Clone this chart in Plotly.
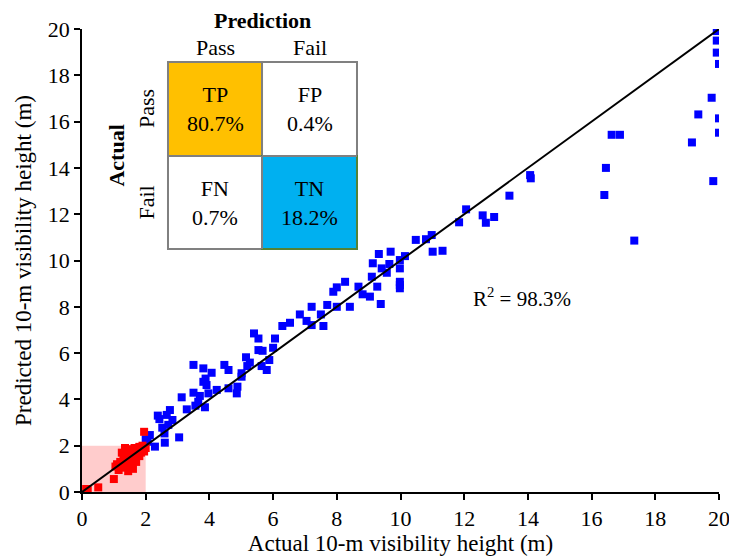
import plotly.graph_objects as go

# ---------------- data ----------------
blue_x = [2.0, 2.06, 2.13, 2.29, 2.38, 2.43, 2.52, 2.59, 2.6, 2.66, 2.71, 2.76, 2.84, 3.05, 3.13,
          3.29, 3.5, 3.5, 3.56, 3.65, 3.7, 3.81, 3.81, 3.86, 3.88, 3.91, 3.97, 4.07, 4.23, 4.47,
          4.6, 4.6, 4.86, 4.88, 5.01, 5.01, 5.15, 5.19, 5.27, 5.4, 5.54, 5.54, 5.64, 5.67, 5.8,
          5.88, 6.0, 6.06, 6.29, 6.53, 6.84, 7.05, 7.21, 7.21, 7.5, 7.58, 7.7, 7.89, 8.0, 8.0,
          8.26, 8.41, 8.68, 8.81, 9.04, 9.1, 9.13, 9.27, 9.32, 9.38, 9.41, 9.57, 9.65, 9.69, 9.98,
          9.98, 9.98, 9.98, 9.98, 10.14, 10.48, 10.8, 10.98, 11.01, 11.32, 11.84, 12.06, 12.58, 12.68,
          12.94, 13.42, 14.07, 14.09, 16.4, 16.45, 16.63, 16.89, 17.34, 19.15, 19.35, 19.77, 19.82,
          19.93, 19.93, 19.93, 20.0, 20.0, 20.0]
blue_y = [2.28, 2.17, 2.46, 1.96, 3.3, 3.15, 2.78, 2.53, 2.13, 3.33, 2.9, 3.54, 3.11, 2.36, 4.09,
          3.57, 4.29, 5.49, 3.73, 3.9, 4.15, 5.34, 4.76, 3.66, 4.9, 4.62, 4.26, 5.15, 4.41, 5.49,
          5.27, 4.48, 4.26, 4.55, 4.98, 5.13, 5.82, 5.44, 5.59, 6.85, 6.63, 6.13, 5.44, 6.1, 5.27,
          5.7, 6.23, 6.63, 7.17, 7.31, 7.67, 7.39, 8.0, 7.21, 7.67, 7.17, 8.08, 8.65, 8.84, 8.0,
          9.08, 8.0, 8.87, 8.54, 8.44, 9.3, 9.88, 8.87, 10.28, 8.12, 9.66, 9.47, 9.85, 10.38, 10.02,
          9.66, 9.08, 8.94, 8.8, 10.19, 10.89, 10.92, 11.1, 10.38, 10.42, 11.65, 12.21, 11.95, 11.63,
          11.88, 12.8, 13.69, 13.55, 12.83, 14.0, 15.43, 15.43, 10.86, 15.1, 16.31, 17.03, 13.43,
          19.91, 19.5, 18.98, 18.49, 16.14, 15.52]

red_x = [0.13, 0.18, 0.51, 1.0, 1.05, 1.1, 1.15, 1.2, 1.25, 1.3, 1.3, 1.35, 1.4, 1.4, 1.45,
         1.45, 1.5, 1.5, 1.55, 1.55, 1.6, 1.6, 1.65, 1.65, 1.7, 1.7, 1.75, 1.8, 1.8, 1.85,
         1.9, 1.9, 1.95, 2.0, 1.95, 1.25, 1.35]
red_y = [0.13, 0.08, 0.2, 0.56, 1.1, 1.2, 0.95, 1.3, 1.15, 1.4, 1.05, 1.6, 1.3, 1.75, 1.5,
         0.9, 1.2, 1.85, 1.6, 1.4, 1.0, 1.75, 1.5, 1.9, 1.3, 1.65, 1.8, 1.55, 1.95, 1.7,
         1.85, 2.0, 1.75, 1.9, 2.6, 1.7, 1.9]

fit_x = [0, 20]
fit_y = [0, 20]
threshold = 2.0
r2_text = "R<sup>2</sup> = 98.3%"

cm_labels = [["TP", "FP"], ["FN", "TN"]]
cm_values = [["80.7%", "0.4%"], ["0.7%", "18.2%"]]
cm_fill = [["#FFC000", "#FFFFFF"], ["#FFFFFF", "#00B0F0"]]
col_names = ["Pass", "Fail"]
row_names = ["Pass", "Fail"]

FONT = "Liberation Serif"
FS = 22

fig = go.Figure()

fig.add_trace(go.Scatter(x=blue_x, y=blue_y, mode="markers",
                         marker=dict(symbol="square", size=8, color="#0000FF", line=dict(width=0)),
                         showlegend=False))
fig.add_trace(go.Scatter(x=red_x, y=red_y, mode="markers",
                         marker=dict(symbol="square", size=8, color="#FF0000", line=dict(width=0)),
                         showlegend=False))
fig.add_trace(go.Scatter(x=fit_x, y=fit_y, mode="lines",
                         line=dict(color="black", width=2), showlegend=False))

# pink threshold region
fig.add_shape(type="rect", xref="x", yref="y", x0=0, x1=threshold, y0=0, y1=threshold,
              fillcolor="rgba(255,0,0,0.2)", line=dict(width=0), layer="below")

# confusion matrix inset (paper coords)
xs = [0.135, 0.2826, 0.4317]
ys = [0.9287, 0.7257, 0.5248]
for i in range(2):
    for j in range(2):
        is_tn = (i == 1 and j == 1)
        fig.add_shape(type="rect", xref="paper", yref="paper",
                      x0=xs[j], x1=xs[j + 1], y0=ys[i + 1], y1=ys[i],
                      fillcolor=cm_fill[i][j],
                      line=dict(color="#548235" if is_tn else "#808080", width=2),
                      layer="above")
        fig.add_annotation(xref="paper", yref="paper",
                           x=(xs[j] + xs[j + 1]) / 2, y=(ys[i] + ys[i + 1]) / 2,
                           xanchor="center", yanchor="middle",
                           text=f"{cm_labels[i][j]}<br>{cm_values[i][j]}",
                           showarrow=False, font=dict(family=FONT, size=FS, color="black"),
                           align="center")
# grey outline on shared edges of TN
fig.add_shape(type="line", xref="paper", yref="paper", x0=xs[1], x1=xs[2], y0=ys[1], y1=ys[1],
              line=dict(color="#808080", width=2))
fig.add_shape(type="line", xref="paper", yref="paper", x0=xs[1], x1=xs[1], y0=ys[1], y1=ys[2],
              line=dict(color="#808080", width=2))

fig.add_annotation(xref="paper", yref="paper", x=(xs[0] + xs[2]) / 2, y=1.019,
                   xanchor="center", yanchor="middle",
                   text="<b>Prediction</b>", showarrow=False,
                   font=dict(family=FONT, size=FS, color="black"))
for j in range(2):
    fig.add_annotation(xref="paper", yref="paper", x=(xs[j] + xs[j + 1]) / 2, y=0.961,
                       xanchor="center", yanchor="middle",
                       text=col_names[j], showarrow=False,
                       font=dict(family=FONT, size=FS, color="black"))
for i in range(2):
    fig.add_annotation(xref="paper", yref="paper", x=0.1005, y=(ys[i] + ys[i + 1]) / 2,
                       xanchor="center", yanchor="middle",
                       text=row_names[i], showarrow=False, textangle=-90,
                       font=dict(family=FONT, size=FS, color="black"))
fig.add_annotation(xref="paper", yref="paper", x=0.0534, y=(ys[0] + ys[2]) / 2,
                   xanchor="center", yanchor="middle",
                   text="<b>Actual</b>", showarrow=False, textangle=-90,
                   font=dict(family=FONT, size=FS, color="black"))

fig.add_annotation(xref="x", yref="y", x=13.8, y=8.4, text=r2_text, showarrow=False,
                   xanchor="center", yanchor="middle",
                   font=dict(family=FONT, size=21, color="black"))

axis_common = dict(range=[0, 20], dtick=2, tick0=0, showgrid=False, zeroline=False,
                   showline=True, linecolor="black", linewidth=1.5,
                   ticks="outside", ticklen=6, tickwidth=1.5, tickcolor="black",
                   automargin=False, ticklabeloverflow="allow",
                   tickfont=dict(family=FONT, size=FS, color="black"))

fig.update_layout(
    width=729, height=558,
    margin=dict(l=82, r=10, t=29, b=66),
    plot_bgcolor="white", paper_bgcolor="white",
    font=dict(family=FONT, size=FS, color="black"),
    xaxis=dict(**axis_common,
               title=dict(text="Actual 10-m visibility height (m)",
                          font=dict(family=FONT, size=23, color="black"), standoff=4)),
    yaxis=dict(**axis_common,
               title=dict(text="Predicted 10-m visibility height (m)",
                          font=dict(family=FONT, size=23, color="black"), standoff=10)),
)

fig.write_html("out.html")
